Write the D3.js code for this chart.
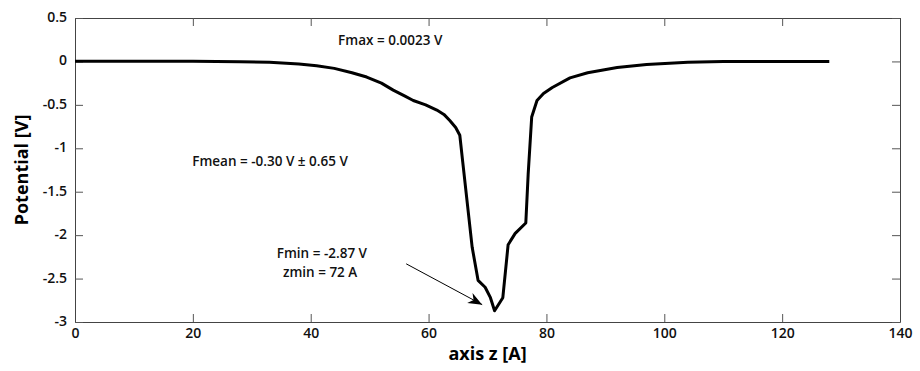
<!DOCTYPE html>
<html>
<head>
<meta charset="UTF-8">
<title>Potential along z</title>
<style>
body, html {
	margin: 0;
	padding: 0;
	background: #ffffff;
	overflow: hidden;
}
text {
	font-family: 'Open Sans', sans-serif;
}
</style>
</head>
<body>
<div id="chart"></div>
<script src="https://cdn.jsdelivr.net/npm/d3@7"></script>
<script>
// profile: z [A] and potential [V]
var zValues = [0, 10, 20, 28, 33, 38, 41, 44, 47, 49.5, 52, 54, 56, 57.4, 59.5, 61.4, 62.6, 63.6, 64.6, 65.3, 65.8, 67.4, 68.4, 69.6, 70.5, 71.2, 72.6, 73.5, 74.7, 76.5, 76.9, 77.5, 78.4, 79.5, 81, 84, 87, 92, 97, 104, 110, 118, 128];
var potential = [0.002, 0.002, 0.001, -0.005, -0.01, -0.03, -0.05, -0.08, -0.13, -0.18, -0.25, -0.33, -0.4, -0.45, -0.5, -0.56, -0.61, -0.68, -0.76, -0.85, -1.16, -2.14, -2.52, -2.6, -2.72, -2.87, -2.72, -2.11, -1.98, -1.86, -1.3, -0.64, -0.45, -0.37, -0.3, -0.19, -0.13, -0.07, -0.035, -0.01, 0, 0, 0];

var xTicks = [0, 20, 40, 60, 80, 100, 120, 140];
var yTicks = [0.5, 0, -0.5, -1, -1.5, -2, -2.5, -3];

var notes = [
	{text: "Fmax = 0.0023 V", z: 53.5, v: 0.189},
	{text: "Fmean = -0.30 V \u00b1 0.65 V", z: 33.1, v: -1.204},
	{text: "Fmin = -2.87 V", z: 41.9, v: -2.263},
	{text: "zmin = 72 A", z: 41.6, v: -2.482}
];

var width = 920;
var height = 371;
var margin = {top: 18, right: 20, bottom: 49, left: 75};

var svg = d3.select("#chart").append("svg")
	.attr("width", width)
	.attr("height", height);

var x = d3.scaleLinear().domain([0, 140]).range([margin.left, width - margin.right]);
var y = d3.scaleLinear().domain([-3, 0.5]).range([height - margin.bottom, margin.top]);

var fmt = function(d) {return d3.format("")(d).replace("\u2212", "-")};

// axes with inward ticks, boxed like the original
var axisB = svg.append("g").attr("transform", "translate(0," + y(-3) + ")")
	.call(d3.axisBottom(x).tickValues(xTicks).tickSizeInner(-8).tickSizeOuter(0).tickPadding(6).tickFormat(fmt));
var axisT = svg.append("g").attr("transform", "translate(0," + y(0.5) + ")")
	.call(d3.axisTop(x).tickValues(xTicks).tickSizeInner(-8).tickSizeOuter(0).tickFormat(""));
var axisL = svg.append("g").attr("transform", "translate(" + x(0) + ",0)")
	.call(d3.axisLeft(y).tickValues(yTicks).tickSizeInner(-8).tickSizeOuter(0).tickPadding(8).tickFormat(fmt));
var axisR = svg.append("g").attr("transform", "translate(" + x(140) + ",0)")
	.call(d3.axisRight(y).tickValues(yTicks).tickSizeInner(-8).tickSizeOuter(0).tickFormat(""));

[axisB, axisT, axisL, axisR].forEach(function(g) {
	g.selectAll("path").attr("stroke", "#444444").attr("stroke-width", 1);
	g.selectAll("line").attr("stroke", "#555555").attr("stroke-width", 1);
	g.selectAll("text").attr("fill", "#111111").style("font-size", "14px").style("font-weight", "600");
});
axisL.selectAll("text").attr("dy", "0.25em");

var line = d3.line().x(function(d, i) {return x(zValues[i])}).y(function(d) {return y(d)});

svg.append("path")
	.datum(potential)
	.attr("fill", "none")
	.attr("stroke", "#000000")
	.attr("stroke-width", 3)
	.attr("stroke-linejoin", "round")
	.attr("d", line);

// annotations
svg.selectAll(".note").data(notes).enter().append("text")
	.attr("class", "note")
	.attr("x", function(d) {return x(d.z)})
	.attr("y", function(d) {return y(d.v)})
	.attr("text-anchor", "middle")
	.style("font-size", "13.5px")
	.style("font-weight", "600")
	.attr("fill", "#111111")
	.text(function(d) {return d.text});

svg.append("defs").append("marker")
	.attr("id", "head")
	.attr("viewBox", "0 0 10 10")
	.attr("refX", 10)
	.attr("refY", 5)
	.attr("markerWidth", 14)
	.attr("markerHeight", 14)
	.attr("markerUnits", "userSpaceOnUse")
	.attr("orient", "auto")
	.append("path")
	.attr("d", "M0,1 L10,5 L0,9 L3,5 Z")
	.attr("fill", "#000000");

svg.append("line")
	.attr("x1", x(56.2)).attr("y1", y(-2.33))
	.attr("x2", x(69.1)).attr("y2", y(-2.8))
	.attr("stroke", "#000000")
	.attr("stroke-width", 1)
	.attr("marker-end", "url(#head)");

// axis titles
svg.append("text")
	.attr("x", x(70))
	.attr("y", 360)
	.attr("text-anchor", "middle")
	.style("font-size", "18px")
	.style("font-weight", "700")
	.text("axis z [A]");

svg.append("text")
	.attr("transform", "translate(28," + y(-1.25) + ") rotate(-90)")
	.attr("text-anchor", "middle")
	.style("font-size", "18px")
	.style("font-weight", "700")
	.text("Potential [V]");
</script>
</body>
</html>
